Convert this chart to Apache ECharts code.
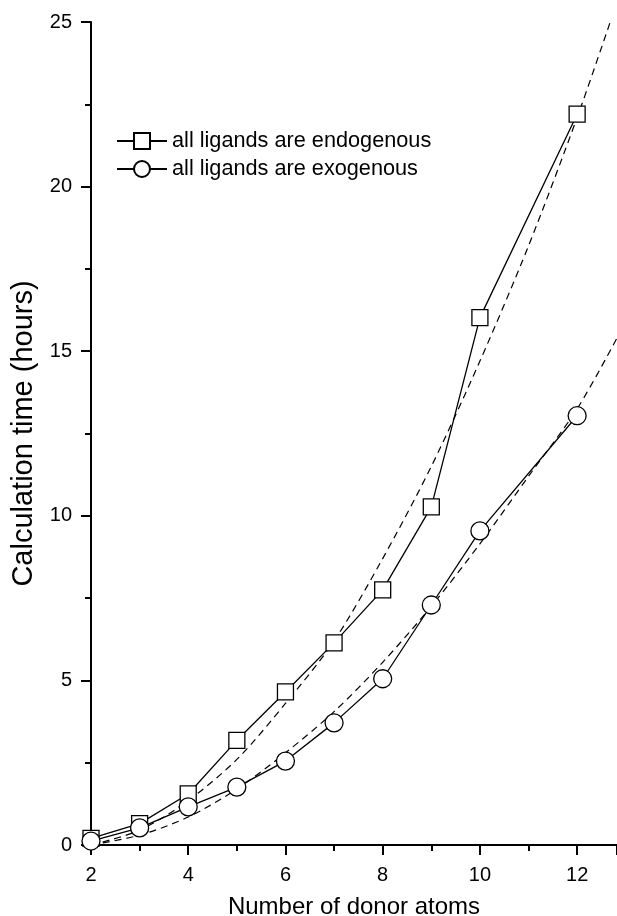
<!DOCTYPE html>
<html>
<head>
<meta charset="utf-8">
<script src="https://cdn.jsdelivr.net/npm/echarts@6/dist/echarts.min.js"></script>
<style>html,body{margin:0;padding:0;background:#fff}#c{width:617px;height:916px}</style>
</head>
<body>
<div id="c"></div>
<script>
// Data
const donorAtoms = [2, 3, 4, 5, 6, 7, 8, 9, 10, 12];
const endogenousHours = [0.2, 0.65, 1.55, 3.18, 4.65, 6.14, 7.75, 10.27, 16.02, 22.2];
const exogenousHours = [0.12, 0.52, 1.16, 1.76, 2.55, 3.71, 5.05, 7.29, 9.54, 13.04];
// Dashed fitted curves
const endoFitX = [2, 3, 4, 5, 6, 7, 8, 9, 10, 11, 12, 12.68];
const endoFitY = [0, 0.45, 1.35, 2.6, 4.3, 6.2, 8.7, 11.5, 14.7, 18.2, 22.1, 25];
const exoFitX = [2, 3, 4, 5, 6, 7, 8, 9, 10, 11, 12, 12.82];
const exoFitY = [0, 0.3, 0.85, 1.7, 2.8, 4.05, 5.55, 7.25, 9.15, 11.2, 13.25, 15.4];
const seriesNames = ['all ligands are endogenous', 'all ligands are exogenous'];
const xTitle = 'Number of donor atoms';
const yTitle = 'Calculation time (hours)';

const pairs = (xs, ys) => xs.map((x, i) => [x, ys[i]]);
const FONT = 'Liberation Sans, Arial, sans-serif';

const chart = echarts.init(document.getElementById('c'), null, {renderer: 'canvas'});
const dash = {color: '#000', width: 1.2, type: [7, 5]};
const markerStyle = {color: '#fff', borderColor: '#000', borderWidth: 1.3};

chart.setOption({
  animation: false,
  backgroundColor: '#fff',
  grid: {left: 91, right: 0, top: 22, bottom: 71, containLabel: false, outerBoundsMode: 'none'},
  legend: {
    data: seriesNames,
    orient: 'vertical',
    left: 116, top: 130, padding: 0,
    itemWidth: 50, itemHeight: 20, itemGap: 6,
    textStyle: {color: '#000', fontSize: 21.7, fontFamily: FONT},
    inactiveColor: '#000'
  },
  xAxis: {
    type: 'value', min: 2, max: 12.82, interval: 2,
    name: xTitle, nameLocation: 'middle', nameGap: 50,
    nameTextStyle: {color: '#000', fontSize: 24, fontFamily: FONT},
    axisLine: {show: true, onZero: false, lineStyle: {color: '#000', width: 2}},
    axisTick: {show: true, length: 10, lineStyle: {color: '#000', width: 2}},
    minorTick: {show: true, splitNumber: 2, length: 6, lineStyle: {color: '#000', width: 2}},
    axisLabel: {color: '#000', fontSize: 20, fontFamily: FONT, margin: 20, showMaxLabel: false},
    splitLine: {show: false}
  },
  yAxis: {
    type: 'value', min: 0, max: 25, interval: 5,
    name: yTitle, nameLocation: 'middle', nameGap: 50,
    nameTextStyle: {color: '#000', fontSize: 29, fontFamily: FONT},
    axisLine: {show: true, lineStyle: {color: '#000', width: 2}},
    axisTick: {show: true, length: 10, lineStyle: {color: '#000', width: 2}},
    minorTick: {show: true, splitNumber: 2, length: 6, lineStyle: {color: '#000', width: 2}},
    axisLabel: {color: '#000', fontSize: 20, fontFamily: FONT, margin: 19},
    splitLine: {show: false}
  },
  series: [
    {type: 'line', name: 'endo fit', data: pairs(endoFitX, endoFitY), smooth: 0.3,
     showSymbol: false, symbol: 'none', lineStyle: dash, z: 1},
    {type: 'line', name: 'exo fit', data: pairs(exoFitX, exoFitY), smooth: 0.3,
     showSymbol: false, symbol: 'none', lineStyle: dash, z: 1},
    {type: 'line', name: seriesNames[0], data: pairs(donorAtoms, endogenousHours),
     symbol: 'rect', symbolSize: 16, lineStyle: {color: '#000', width: 1.3},
     itemStyle: markerStyle, clip: false, z: 3},
    {type: 'line', name: seriesNames[1], data: pairs(donorAtoms, exogenousHours),
     symbol: 'circle', symbolSize: 18, lineStyle: {color: '#000', width: 1.3},
     itemStyle: markerStyle, clip: false, z: 4}
  ]
});
</script>
</body>
</html>
